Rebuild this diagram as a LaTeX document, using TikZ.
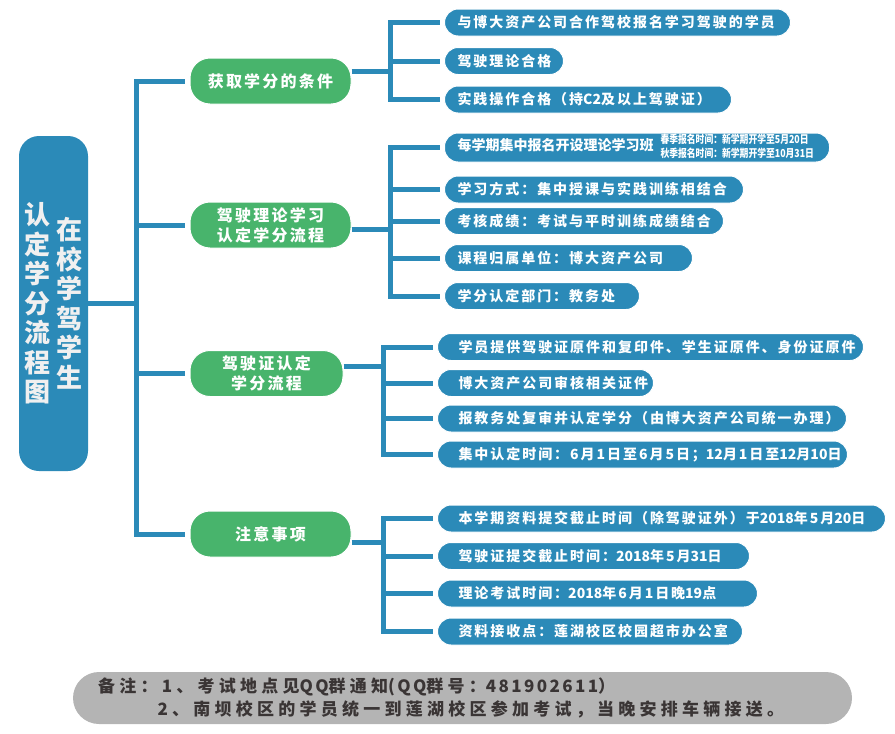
\documentclass[tikz,border=0pt]{standalone}
\usepackage{fontspec}
\setmainfont{Noto Sans CJK SC}
\newfontfamily\cjk{Noto Sans CJK SC}
\newfontfamily\cjkwide{Noto Sans CJK SC}[LetterSpace=14]
\newfontfamily\cjknote{Noto Sans CJK SC}[LetterSpace=25]
\newfontfamily\cjknarrow{Noto Sans CJK SC}[FakeStretch=0.8]

% 数字与字母不加字距
\newcommand\tight[1]{{\cjk#1}}
\newcommand\notenum[1]{{\cjkwide#1}}

\definecolor{nodeblue}{HTML}{2B8AB8}
\definecolor{stagegreen}{HTML}{48B46C}
\definecolor{notegray}{HTML}{B4B4B4}
\definecolor{notetext}{HTML}{3A3535}

\begin{document}
\begin{tikzpicture}[x=1pt, y=-1pt,
   link/.style={draw=nodeblue, line width=5pt},
   stage/.style={fill=stagegreen, draw=white, line width=1pt, text=white, rounded corners=20pt,
      minimum width=161pt, minimum height=46pt, align=center,
      font=\cjkwide\bfseries\fontsize{16}{20}\selectfont},
   leaf/.style={fill=nodeblue, draw=white, line width=1pt, text=white, rounded corners=13.5pt,
      minimum height=27pt, inner ysep=0pt, inner xsep=13pt, anchor=west, align=left,
      font=\cjkwide\bfseries\fontsize{14}{16}\selectfont},
   leafwide/.style={leaf, inner xsep=21pt}]

   \useasboundingbox (0,0) rectangle (895,734);

   % 根节点
   \node [fill=nodeblue, rounded corners=20pt, minimum width=69pt, minimum height=335pt, inner sep=0pt,
      text=gray!12, font=\cjk\bfseries\fontsize{26}{29.5}\selectfont] (root) at (53.5,303.5)
      {\parbox[c]{26pt}{\centering 认\\定\\学\\分\\流\\程\\图}\hspace{6pt}%
       \parbox[c]{26pt}{\centering 在\\校\\学\\驾\\学\\生}};

   % 分支
   \node [stage] (cond) at (270.5,81) {获取学分的条件};
   \node [stage] (theory) at (270.5,225) {驾驶理论学习\\认定学分流程};
   \node [stage, minimum width=153pt] (licence) at (266.5,373.5) {驾驶证认定\\学分流程};
   \node [stage] (notice) at (270.5,534) {注意事项};

   % 获取学分的条件
   \node [leaf, text width=320pt] (cond-a) at (444,22.5) {与博大资产公司合作驾校报名学习驾驶的学员};
   \node [leaf, text width=93pt] (cond-b) at (444,61) {驾驶理论合格};
   \node [leaf, text width=261pt] (cond-c) at (444,99.5) {实践操作合格（持\tight{C2}及以上驾驶证）};

   % 驾驶理论学习
   \node [leaf, text width=359pt, minimum height=29pt] (theory-a) at (444,147.5)
      {\mbox{{\cjk 每学期集中报名开设理论学习班}\hspace{7pt}{\cjknarrow\fontsize{11}{13}\selectfont
       \begin{tabular}{@{}l@{}}春季报名时间：新学期开学至5月20日\\秋季报名时间：新学期开学至10月31日\end{tabular}}}};
   \node [leaf, text width=273pt] (theory-b) at (444,189.5) {学习方式：集中授课与实践训练相结合};
   \node [leaf, text width=253pt] (theory-c) at (444,221) {考核成绩：考试与平时训练成绩结合};
   \node [leaf, text width=222pt] (theory-d) at (444,258) {课程归属单位：博大资产公司};
   \node [leaf, text width=169pt] (theory-e) at (444,296) {学分认定部门：教务处};

   % 驾驶证认定
   \node [leafwide, text width=384pt] (licence-a) at (437,347) {学员提供驾驶证原件和复印件、学生证原件、身份证原件};
   \node [leafwide, text width=174pt] (licence-b) at (437,383) {博大资产公司审核相关证件};
   \node [leafwide, text width=367pt] (licence-c) at (437,418.5) {报教务处复审并认定学分（由博大资产公司统一办理）};
   \node [leafwide, text width=368pt] (licence-d) at (437,454.5)
      {集中认定时间：6月1日至6月5日；\tight{12}月1日至\tight{12}月\tight{10}日};

   % 注意事项
   \node [leafwide, text width=406pt] (notice-a) at (437,518.5)
      {本学期资料提交截止时间（除驾驶证外）于\tight{2018}年5月\tight{20}日};
   \node [leafwide, text width=270pt] (notice-b) at (437,556) {驾驶证提交截止时间：\tight{2018}年5月\tight{31}日};
   \node [leafwide, text width=278pt] (notice-c) at (437,593.5) {理论考试时间：\tight{2018}年6月1日晚\tight{19}点};
   \node [leafwide, text width=263pt] (notice-d) at (437,631.5) {资料接收点：莲湖校区校园超市办公室};

   % 连线
   \draw [link] (root.east) -- ++(48.5,0) coordinate (trunk);
   \foreach \s in {cond,theory,licence,notice}
      \draw [link, shorten >=5pt] (trunk) |- (\s.west);

   \coordinate (j-cond) at (390.5,71);
   \coordinate (j-theory) at (390.5,229);
   \coordinate (j-licence) at (383.5,366);
   \coordinate (j-notice) at (383.5,542);
   \foreach \s in {cond,theory,licence,notice}
      \draw [link] (\s.east |- j-\s) -- (j-\s);

   \foreach \l in {a,b,c}
      \draw [link, shorten >=4pt] (j-cond) |- (cond-\l.west);
   \foreach \l in {a,b,c,d,e}
      \draw [link, shorten >=4pt] (j-theory) |- (theory-\l.west);
   \foreach \l in {a,b,c,d}
      \draw [link, shorten >=4pt] (j-licence) |- (licence-\l.west);
   \foreach \l in {a,b,c,d}
      \draw [link, shorten >=4pt] (j-notice) |- (notice-\l.west);

   % 备注
   \node [fill=notegray, rounded corners=26pt, minimum width=779pt, minimum height=52pt, inner xsep=25pt,
      text width=729pt, align=left, text=notetext, font=\cjknote\bfseries\fontsize{17}{23}\selectfont]
      (note) at (462.5,698)
      {备注：1、考试地点见\notenum{QQ}群通知\notenum{(QQ}群号：\notenum{481902611}）\\\hphantom{备注：}2、南坝校区的学员统一到莲湖校区参加考试，当晚安排车辆接送。};

\end{tikzpicture}
\end{document}
